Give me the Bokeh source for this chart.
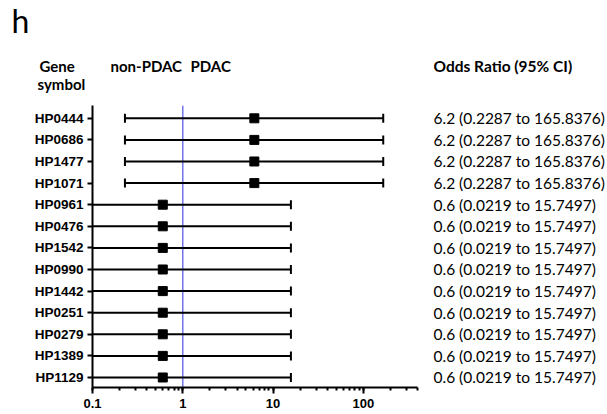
from bokeh.plotting import figure
from bokeh.models import Label, FixedTicker, CustomJSTickFormatter, Range1d
from bokeh.core.properties import value
from bokeh.embed import file_html
from bokeh.resources import INLINE

# ---------------- data ----------------
genes = ["HP0444", "HP0686", "HP1477", "HP1071", "HP0961", "HP0476", "HP1542",
         "HP0990", "HP1442", "HP0251", "HP0279", "HP1389", "HP1129"]
odds_ratio = [6.2, 6.2, 6.2, 6.2, 0.6, 0.6, 0.6, 0.6, 0.6, 0.6, 0.6, 0.6, 0.6]
ci_lower = [0.2287, 0.2287, 0.2287, 0.2287, 0.0219, 0.0219, 0.0219, 0.0219,
            0.0219, 0.0219, 0.0219, 0.0219, 0.0219]
ci_upper = [165.8376, 165.8376, 165.8376, 165.8376, 15.7497, 15.7497, 15.7497,
            15.7497, 15.7497, 15.7497, 15.7497, 15.7497, 15.7497]
x_major = [0.1, 1, 10, 100]
x_axis_max = 400

# ---------------- layout constants (screen px) ----------------
W, H = 607, 414
PX_LEFT = 92        # x of the y axis (value 0.1)
DECADE = 90.3       # px per decade
PY_BOTTOM = 387     # y of the x axis
PY_TOP = 105        # top of the y axis
ROW = 21.6          # px between rows
Y0 = -0.463         # data y at the x axis


def sx_to_x(px):
    return 0.1 * 10 ** ((px - PX_LEFT) / DECADE)


n = len(genes)
ys = [n - 1 - i for i in range(n)]
y_top = Y0 + (PY_BOTTOM - PY_TOP) / ROW

p = figure(width=W, height=H, x_axis_type="log", output_backend="svg",
           toolbar_location=None,
           x_range=Range1d(0.1, sx_to_x(W)), y_range=Range1d(Y0, y_top),
           min_border_left=PX_LEFT, min_border_right=0, min_border_top=PY_TOP,
           min_border_bottom=H - PY_BOTTOM)
p.outline_line_color = None
p.xgrid.visible = False
p.ygrid.visible = False
p.background_fill_color = "white"
p.border_fill_color = "white"

# reference line at OR = 1
p.segment(x0=[1], x1=[1], y0=[Y0], y1=[y_top], line_color="#5f5fe8", line_width=1.3)

# CI bars
p.segment(x0=ci_lower, x1=ci_upper, y0=ys, y1=ys, line_color="black", line_width=2)
p.scatter(x=ci_lower, y=ys, marker="dash", angle=1.5708, size=9, line_color="black", line_width=2)
p.scatter(x=ci_upper, y=ys, marker="dash", angle=1.5708, size=9, line_color="black", line_width=2)
p.scatter(x=odds_ratio, y=ys, marker="square", size=9, fill_color="black", line_color="black")

# right-hand text
labels_txt = [f"{o} ({lo} to {hi})" for o, lo, hi in zip(odds_ratio, ci_lower, ci_upper)]
p.text(x=[sx_to_x(433)] * n, y=ys, text=labels_txt, text_font=value("Lato"),
       text_font_size="15.5px", text_baseline="middle", text_align="left", text_color="black")

# axes
xa = p.xaxis[0]
xa.ticker = FixedTicker(ticks=x_major,
                        minor_ticks=[m * 10 ** e for e in range(-1, 3) for m in range(1, 10)
                                     if m * 10 ** e <= x_axis_max])
xa.formatter = CustomJSTickFormatter(code="return String(tick);")
xa.bounds = (0.1, x_axis_max)
xa.axis_line_width = 2
xa.major_tick_line_width = 2
xa.minor_tick_line_width = 2
xa.major_tick_in = 0
xa.major_tick_out = 6
xa.minor_tick_in = 0
xa.minor_tick_out = 3
xa.major_label_standoff = 5
xa.major_label_text_font = "Liberation Sans"
xa.major_label_text_font_style = "bold"
xa.major_label_text_font_size = "13px"
xa.major_label_text_color = "black"

ya = p.yaxis[0]
ya.ticker = FixedTicker(ticks=ys, minor_ticks=[])
ya.major_label_overrides = {y: g for y, g in zip(ys, genes)}
ya.bounds = (Y0, y_top)
ya.axis_line_width = 2
ya.major_tick_line_width = 2
ya.major_tick_in = 0
ya.major_tick_out = 5
ya.minor_tick_out = 0
ya.major_label_standoff = 4
ya.major_label_text_font = "Liberation Sans"
ya.major_label_text_font_style = "bold"
ya.major_label_text_font_size = "13.5px"
ya.major_label_text_color = "black"


# header texts (canvas pixel positions)
def add_label(text, px, py, size, bold=True, side="above"):
    p.add_layout(Label(x=px, y=py, x_units="canvas", y_units="canvas", text=text,
                       text_font="Lato", text_font_size=size,
                       text_font_style="bold" if bold else "normal",
                       text_baseline="alphabetic", text_align="left", text_color="black"), side)


add_label("h", 11, 20, "32px", bold=False, side="left")
add_label("Gene", 39, 65, "15px")
add_label("symbol", 37, 83, "15px")
add_label("non-PDAC", 110, 65, "15px")
add_label("PDAC", 190, 65, "15px")
add_label("Odds Ratio (95% CI)", 433, 65, "15.5px")

open("out.html", "w").write(file_html(p, INLINE))
